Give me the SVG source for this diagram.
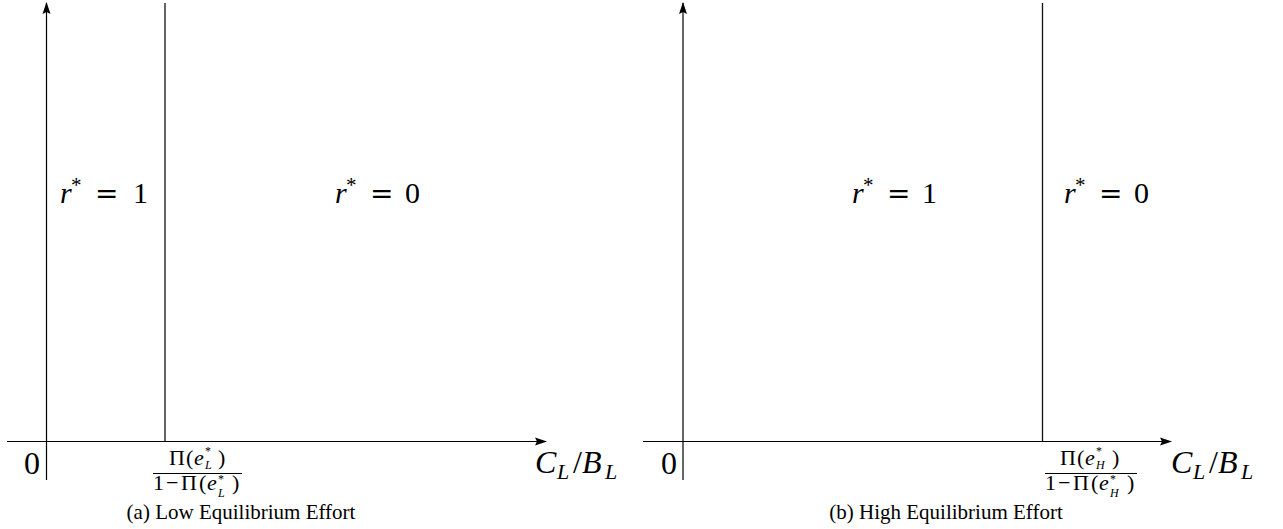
<svg xmlns="http://www.w3.org/2000/svg" width="1283" height="529" viewBox="0 0 1283 529">
<style>
.ax{stroke:#000;stroke-width:1.2;fill:none}
.vl{stroke:#111;stroke-width:1.3;fill:none}
.fl{stroke:#000;stroke-width:1}
text{font-family:"Liberation Serif","DejaVu Serif",serif;fill:#000}
.big{font-size:30px}
.eq{font-family:"DejaVu Serif",serif;font-size:28px}
.st{font-size:21px}
.axl{font-size:32px}
.sub{font-size:22px;font-style:italic}
.fr{font-size:22px}
.fs{font-size:12px}
.cap{font-size:21px}
.it{font-style:italic}
</style>
<defs>
<marker id="arr" viewBox="0 0 12 10" refX="11" refY="5" markerWidth="12" markerHeight="10" markerUnits="userSpaceOnUse" orient="auto">
<path d="M0,1 L12,5 L0,9 L2,5 Z" fill="#000"/>
</marker>
</defs>
<g id="connectors">
<line class="ax" x1="46.5" y1="480" x2="46.5" y2="3" marker-end="url(#arr)"/>
<line class="ax" x1="7" y1="441.5" x2="546" y2="441.5" marker-end="url(#arr)"/>
<line class="vl" x1="165" y1="3" x2="165" y2="441.5"/>
<line class="ax" x1="683" y1="480" x2="683" y2="3" marker-end="url(#arr)"/>
<line class="ax" x1="643" y1="441.5" x2="1171" y2="441.5" marker-end="url(#arr)"/>
<line class="vl" x1="1042.5" y1="3" x2="1042.5" y2="441.5"/>
</g>
<g id="panel-a">
<text class="big" y="203"><tspan class="it" x="60">r</tspan><tspan class="st" x="71" y="192">*</tspan></text>
<text class="eq" x="95" y="203">=</text>
<text class="big" x="133" y="203">1</text>
<text class="big" y="203"><tspan class="it" x="335">r</tspan><tspan class="st" x="346" y="192">*</tspan></text>
<text class="eq" x="370" y="203">=</text>
<text class="big" x="405" y="203">0</text>
<text class="axl" x="24" y="474">0</text>
<text class="axl" y="473"><tspan class="it" x="535">C</tspan><tspan class="sub" x="557" y="479">L</tspan><tspan x="573" y="473">/</tspan><tspan class="it" x="582">B</tspan><tspan class="sub" x="605" y="479">L</tspan></text>
<g id="frac-a">
<text class="fr" y="465"><tspan x="169">Π</tspan><tspan x="186">(</tspan><tspan class="it" x="194">e</tspan><tspan class="fs" x="205" y="455">*</tspan><tspan class="fs it" x="205" y="469">L</tspan><tspan x="218" y="465">)</tspan></text>
<line class="fl" x1="153" y1="473.5" x2="242" y2="473.5"/>
<text class="fr" y="490"><tspan x="153">1</tspan><tspan x="166">−</tspan><tspan x="181">Π</tspan><tspan x="199">(</tspan><tspan class="it" x="207">e</tspan><tspan class="fs" x="218" y="483">*</tspan><tspan class="fs it" x="218" y="497">L</tspan><tspan x="232" y="490">)</tspan></text>
</g>
<text class="cap" x="241" y="519" text-anchor="middle">(a) Low Equilibrium Effort</text>
</g>
<g id="panel-b">
<text class="big" y="203"><tspan class="it" x="852">r</tspan><tspan class="st" x="863" y="192">*</tspan></text>
<text class="eq" x="887" y="203">=</text>
<text class="big" x="922" y="203">1</text>
<text class="big" y="203"><tspan class="it" x="1064">r</tspan><tspan class="st" x="1075" y="192">*</tspan></text>
<text class="eq" x="1099" y="203">=</text>
<text class="big" x="1134" y="203">0</text>
<text class="axl" x="661" y="474">0</text>
<text class="axl" y="473"><tspan class="it" x="1171">C</tspan><tspan class="sub" x="1193" y="479">L</tspan><tspan x="1209" y="473">/</tspan><tspan class="it" x="1218">B</tspan><tspan class="sub" x="1241" y="479">L</tspan></text>
<g id="frac-b">
<text class="fr" y="465"><tspan x="1060">Π</tspan><tspan x="1077">(</tspan><tspan class="it" x="1085">e</tspan><tspan class="fs" x="1096" y="455">*</tspan><tspan class="fs it" x="1096" y="469">H</tspan><tspan x="1112" y="465">)</tspan></text>
<line class="fl" x1="1045" y1="473.5" x2="1137" y2="473.5"/>
<text class="fr" y="490"><tspan x="1045">1</tspan><tspan x="1058">−</tspan><tspan x="1073">Π</tspan><tspan x="1091">(</tspan><tspan class="it" x="1099">e</tspan><tspan class="fs" x="1110" y="483">*</tspan><tspan class="fs it" x="1110" y="497">H</tspan><tspan x="1127" y="490">)</tspan></text>
</g>
<text class="cap" x="946" y="519" text-anchor="middle">(b) High Equilibrium Effort</text>
</g>
</svg>
